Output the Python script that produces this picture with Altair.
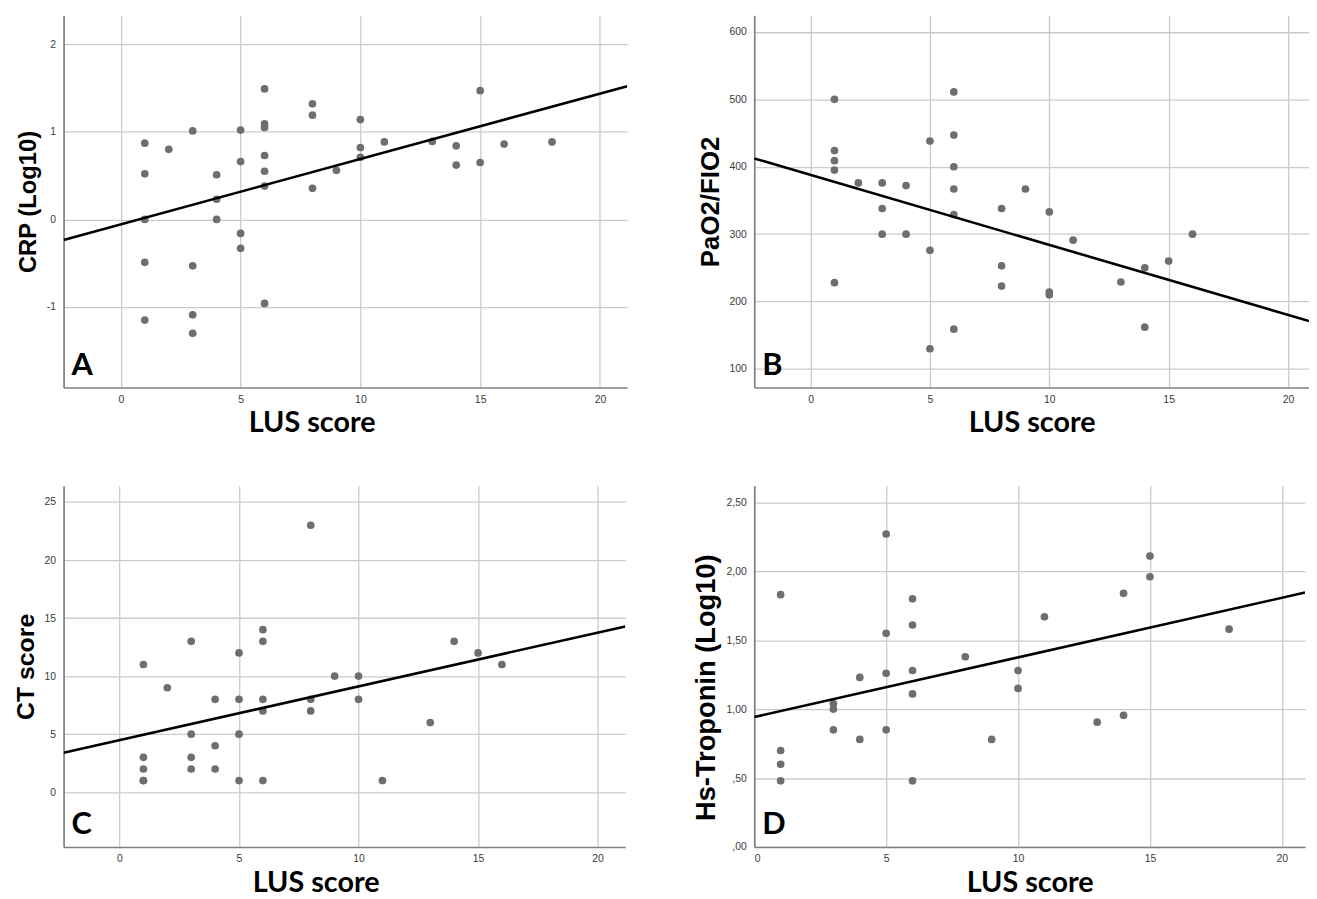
import altair as alt
import pandas as pd

# ---------------- data ----------------
# Panel A: LUS score vs CRP (Log10)
lus_a = [1, 1, 1, 1, 1, 2, 3, 3, 3, 3, 4, 4, 4, 5, 5, 5, 5, 6, 6, 6, 6, 6, 6, 6,
         8, 8, 8, 9, 10, 10, 10, 11, 13, 14, 14, 15, 15, 16, 18]
crp_a = [0.87, 0.52, 0.0, -0.49, -1.15, 0.80, 1.01, -0.53, -1.09, -1.30,
         0.51, 0.23, 0.0, 1.02, 0.66, -0.16, -0.33,
         1.49, 1.09, 1.05, 0.73, 0.55, 0.38, -0.96,
         1.32, 1.19, 0.355, 0.56, 1.14, 0.82, 0.71, 0.885, 0.89,
         0.84, 0.62, 1.47, 0.65, 0.86, 0.885]

# Panel B: LUS score vs PaO2/FIO2
lus_b = [1, 1, 1, 1, 1, 2, 3, 3, 3, 4, 4, 5, 5, 5, 6, 6, 6, 6, 6, 6,
         8, 8, 8, 9, 10, 10, 10, 11, 13, 14, 14, 15, 16]
pf_b = [500, 424, 409, 395, 228, 376, 376, 338, 300, 372, 300, 438, 276, 130,
        511, 447, 400, 367, 329, 159, 338, 253, 223, 367, 333, 214, 210,
        291, 229, 250, 162, 260, 300]

# Panel C: LUS score vs CT score (one overlapping point at 1/1)
lus_c = [1, 1, 1, 1, 1, 2, 3, 3, 3, 3, 4, 4, 4, 5, 5, 5, 5, 6, 6, 6, 6, 6,
         8, 8, 8, 9, 10, 10, 11, 13, 14, 15, 16]
ct_c = [11, 3, 2, 1, 1, 9, 13, 5, 3, 2, 8, 4, 2, 12, 8, 5, 1, 14, 13, 8, 7, 1,
        23, 8, 7, 10, 10, 8, 1, 6, 13, 12, 11]

# Panel D: LUS score vs Hs-Troponin (Log10)
lus_d = [1, 1, 1, 1, 3, 3, 3, 4, 4, 5, 5, 5, 5, 6, 6, 6, 6, 6, 8, 9, 10, 10,
         11, 13, 14, 14, 15, 15, 18]
trop_d = [1.83, 0.70, 0.60, 0.48, 1.04, 1.00, 0.85, 1.23, 0.78,
          2.27, 1.55, 1.26, 0.85, 1.80, 1.61, 1.28, 1.11, 0.48,
          1.38, 0.78, 1.28, 1.15, 1.67, 0.905, 1.84, 0.955, 2.11, 1.96, 1.58]

x_title = "LUS score"
y_titles = ["CRP (Log10)", "PaO2/FIO2", "CT score", "Hs-Troponin (Log10)"]
panel_letters = ["A", "B", "C", "D"]

x_ticks = [0, 5, 10, 15, 20]
y_ticks = [[-1, 0, 1, 2], [100, 200, 300, 400, 500, 600],
           [0, 5, 10, 15, 20, 25], [0, 0.5, 1.0, 1.5, 2.0, 2.5]]
x_domains = [[-2.39, 21.14], [-2.36, 20.88], [-2.34, 21.16], [0, 20.88]]
y_domains = [[-1.92, 2.33], [72.5, 624.5], [-4.72, 26.4], [0, 2.62]]

POINT = "#6e6e6e"
LABEL_FONT = "Liberation Sans"


def panel(xs, ys, idx, w, h, y_label_expr, y_title_size, x_title_x=None,
          y_title_y=None):
    df = pd.DataFrame({"x": xs, "y": ys})
    xdom, ydom = x_domains[idx], y_domains[idx]
    xaxis_kw = dict(values=x_ticks, title=x_title, format="d")
    if x_title_x is not None:
        xaxis_kw["titleX"] = x_title_x
    yaxis_kw = dict(values=y_ticks[idx], title=y_titles[idx],
                    labelExpr=y_label_expr, titleFontSize=y_title_size)
    if y_title_y is not None:
        yaxis_kw["titleY"] = y_title_y
    xenc = alt.X("x:Q", scale=alt.Scale(domain=xdom, nice=False, zero=False),
                 axis=alt.Axis(**xaxis_kw))
    yenc = alt.Y("y:Q", scale=alt.Scale(domain=ydom, nice=False, zero=False),
                 axis=alt.Axis(**yaxis_kw))
    base = alt.Chart(df)
    pts = base.mark_circle(size=60, color=POINT, opacity=1).encode(x=xenc, y=yenc)
    line = base.transform_regression("x", "y", extent=xdom).mark_line(
        color="black", strokeWidth=2.6, clip=True).encode(x=xenc, y=yenc)
    letter = alt.Chart(pd.DataFrame({"t": [panel_letters[idx]]})).mark_text(
        align="left", baseline="alphabetic", font="Lato", fontWeight="bold",
        fontSize=31, color="black").encode(
        text="t:N", x=alt.value(8), y=alt.value(h - 13))
    return alt.layer(pts, line, letter).properties(width=w, height=h)


plain = "'' + datum.value"
comma = ("datum.value < 1 ? slice(replace(format(datum.value, '.2f'), '.', ','), 1)"
         " : replace(format(datum.value, '.2f'), '.', ',')")

pa = panel(lus_a, crp_a, 0, 568, 375, plain, 24, x_title_x=250)
pb = panel(lus_b, pf_b, 1, 559, 375, plain, 26)
pc = panel(lus_c, ct_c, 2, 566, 364, plain, 25, x_title_x=254)
pd_ = panel(lus_d, trop_d, 3, 555, 364, comma, 27.5, y_title_y=203)

chart = alt.concat(pa, pb, pc, pd_, columns=2,
                   spacing=alt.RowColnumber(row=99, column=128),
                   bounds="flush").properties(
    padding={"left": 5, "top": 4, "right": 0, "bottom": 0}
).configure_view(stroke=None).configure_axis(
    grid=True, gridColor="#cbcbcb", gridWidth=1.3,
    domainColor="#808080", domainWidth=1.7,
    ticks=False, labelFont=LABEL_FONT, labelFontSize=10.5, labelColor="#3a3a3a",
    labelPadding=7, titleColor="black",
).configure_axisX(
    titleFont="Lato", titleFontWeight="bold", titleFontSize=29, titlePadding=4,
).configure_axisY(
    titleFont="Liberation Sans", titleFontWeight="bold",
    titlePadding=6, labelPadding=8,
)

chart.save("out.html", embed_options={"renderer": "svg", "actions": False})
